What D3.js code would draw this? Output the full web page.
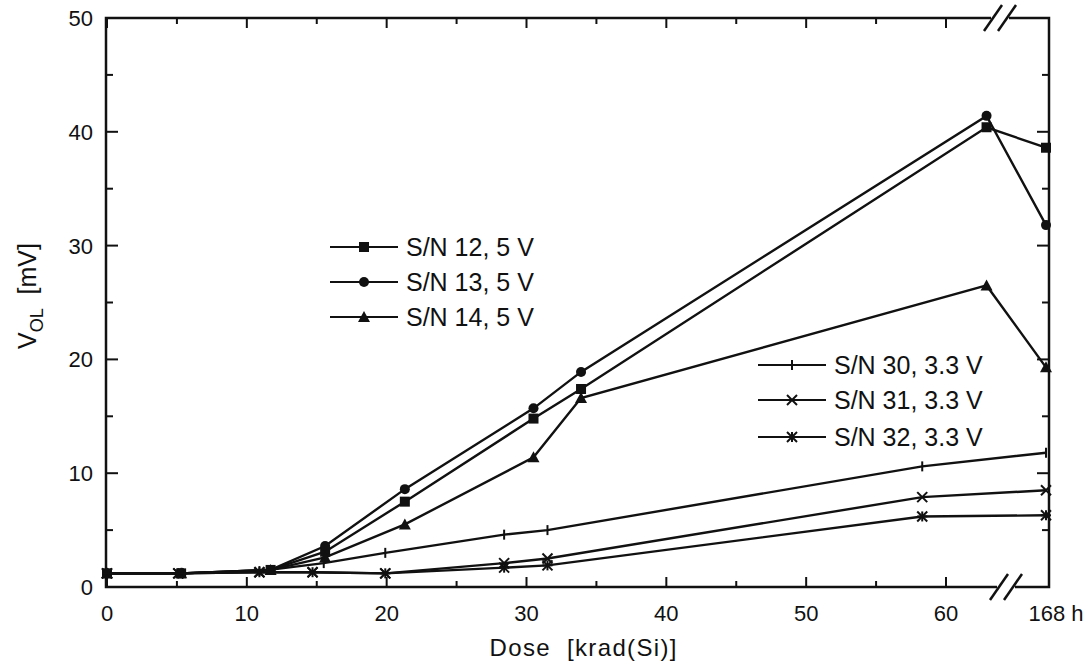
<!DOCTYPE html>
<html>
<head>
<meta charset="utf-8">
<script src="https://cdn.jsdelivr.net/npm/d3@7"></script>
<style>
  body { margin: 0; background: #fff; }
  text { font-family: "Liberation Sans", Arial, sans-serif; fill: #111; }
</style>
</head>
<body>
<div id="chart"></div>
<script>
// dose values in krad(Si); 168 = the 168 h anneal point past the axis break
const dose5V = [0, 5.3, 11.7, 15.6, 21.3, 30.5, 33.9, 62.9, 168];
const dose33V = [0, 5.1, 10.9, 14.7, 19.9, 28.4, 31.5, 58.3, 168];
const dose30 = [0, 5.1, 10.9, 15.5, 19.9, 28.4, 31.5, 58.3, 168];

const sn12 = [1.2, 1.2, 1.5, 3.1, 7.5, 14.8, 17.4, 40.4, 38.6];
const sn13 = [1.2, 1.2, 1.5, 3.6, 8.6, 15.7, 18.9, 41.4, 31.8];
const sn14 = [1.2, 1.2, 1.5, 2.6, 5.5, 11.4, 16.6, 26.5, 19.3];
const sn30 = [1.2, 1.2, 1.4, 2.1, 3.0, 4.6, 5.0, 10.6, 11.8];
const sn31 = [1.2, 1.2, 1.3, 1.3, 1.2, 2.1, 2.5, 7.9, 8.5];
const sn32 = [1.2, 1.2, 1.3, 1.3, 1.2, 1.7, 1.9, 6.2, 6.3];

const xTicks = [0, 10, 20, 30, 40, 50, 60];
const xMinor = [5, 15, 25, 35, 45, 55];
const yTicks = [0, 10, 20, 30, 40, 50];
const yMinor = [5, 15, 25, 35, 45];

const series = [
    { name: 'S/N 12, 5 V', x: dose5V, y: sn12, sym: 'square' },
    { name: 'S/N 13, 5 V', x: dose5V, y: sn13, sym: 'circle' },
    { name: 'S/N 14, 5 V', x: dose5V, y: sn14, sym: 'triangle' },
    { name: 'S/N 30, 3.3 V', x: dose30, y: sn30, sym: 'plus' },
    { name: 'S/N 31, 3.3 V', x: dose33V, y: sn31, sym: 'cross' },
    { name: 'S/N 32, 3.3 V', x: dose33V, y: sn32, sym: 'asterisk' }
];

const width = 1090, height = 666;
const pLeft = 106, pRight = 1049, pTop = 18, pBottom = 587;

const svg = d3.select('#chart')
    .append('svg')
    .attr('width', width)
    .attr('height', height);

// piecewise: linear up to the break, then 168 h sits on the right frame
const k = (946 - 107) / 60;
const x = d3.scaleLinear()
    .domain([0, 66, 168])
    .range([107, 107 + 66 * k, 1046]);
const y = d3.scaleLinear().domain([0, 50]).range([pBottom, pTop]);

// frame
svg.append('rect')
    .attr('x', pLeft).attr('y', pTop)
    .attr('width', pRight - pLeft).attr('height', pBottom - pTop)
    .attr('fill', 'none').attr('stroke', '#111').attr('stroke-width', 2.5);

// inward ticks on all four sides
const tickG = svg.append('g').attr('stroke', '#111').attr('stroke-width', 2);
xTicks.concat(xMinor).forEach(v => {
    const len = xTicks.includes(v) ? 10 : 6;
    tickG.append('line').attr('x1', x(v)).attr('x2', x(v)).attr('y1', pBottom).attr('y2', pBottom - len);
    tickG.append('line').attr('x1', x(v)).attr('x2', x(v)).attr('y1', pTop).attr('y2', pTop + len);
});
yTicks.concat(yMinor).forEach(v => {
    const len = yTicks.includes(v) ? 12 : 7;
    tickG.append('line').attr('x1', pLeft).attr('x2', pLeft + len).attr('y1', y(v)).attr('y2', y(v));
    tickG.append('line').attr('x1', pRight).attr('x2', pRight - len).attr('y1', y(v)).attr('y2', y(v));
});

// tick labels
svg.append('g').selectAll('text')
    .data(xTicks)
    .enter().append('text')
    .attr('x', d => x(d))
    .attr('y', 621)
    .attr('text-anchor', 'middle')
    .attr('font-size', 22)
    .text(d => d);
svg.append('text')
    .attr('x', 1056).attr('y', 621)
    .attr('text-anchor', 'middle')
    .attr('font-size', 22)
    .text('168 h');
svg.append('g').selectAll('text')
    .data(yTicks)
    .enter().append('text')
    .attr('x', 93)
    .attr('y', d => y(d) + 8)
    .attr('text-anchor', 'end')
    .attr('font-size', 22)
    .text(d => d);

// axis titles
svg.append('text')
    .attr('x', 583).attr('y', 656)
    .attr('text-anchor', 'middle')
    .attr('font-size', 24)
    .attr('xml:space', 'preserve')
    .attr('textLength', 187)
    .text('Dose  [krad(Si)]');
const yl = svg.append('text')
    .attr('transform', 'translate(36,296) rotate(-90)')
    .attr('text-anchor', 'middle')
    .attr('font-size', 25)
    .attr('xml:space', 'preserve');
yl.append('tspan').text('V');
yl.append('tspan').attr('font-size', 18).attr('dy', 7).text('OL');
yl.append('tspan').attr('dy', -7).text('  [mV]');

// axis break marks
function breakMark(cx, cy) {
    svg.append('rect').attr('x', cx - 9).attr('y', cy - 3).attr('width', 18).attr('height', 6).attr('fill', '#fff');
    [-7, 7].forEach(o => {
        svg.append('line')
            .attr('x1', cx + o - 9).attr('y1', cy + 13)
            .attr('x2', cx + o + 9).attr('y2', cy - 13)
            .attr('stroke', '#111').attr('stroke-width', 2.5);
    });
}
breakMark(1000, pTop);
breakMark(1006, pBottom);

// markers
function drawSymbol(g, sym, cx, cy) {
    if (sym === 'square') {
        g.append('rect').attr('x', cx - 5).attr('y', cy - 5).attr('width', 10).attr('height', 10).attr('fill', '#111');
    } else if (sym === 'circle') {
        g.append('circle').attr('cx', cx).attr('cy', cy).attr('r', 5).attr('fill', '#111');
    } else if (sym === 'triangle') {
        g.append('path').attr('d', `M${cx},${cy - 6}L${cx + 6},${cy + 5}L${cx - 6},${cy + 5}Z`).attr('fill', '#111');
    } else {
        const p = g.append('g').attr('stroke', '#111').attr('stroke-width', 2);
        const s = 5;
        if (sym === 'plus' || sym === 'asterisk') {
            p.append('line').attr('x1', cx).attr('x2', cx).attr('y1', cy - s).attr('y2', cy + s);
        }
        if (sym === 'cross' || sym === 'asterisk') {
            p.append('line').attr('x1', cx - s).attr('x2', cx + s).attr('y1', cy - s).attr('y2', cy + s);
            p.append('line').attr('x1', cx - s).attr('x2', cx + s).attr('y1', cy + s).attr('y2', cy - s);
        }
        if (sym === 'asterisk') {
            p.append('line').attr('x1', cx - s).attr('x2', cx + s).attr('y1', cy).attr('y2', cy);
        }
    }
}

const line = d3.line().x(d => x(d[0])).y(d => y(d[1]));
series.forEach(s => {
    const pts = s.x.map((d, i) => [d, s.y[i]]);
    svg.append('path')
        .attr('d', line(pts))
        .attr('fill', 'none')
        .attr('stroke', '#111')
        .attr('stroke-width', 2.4);
    const g = svg.append('g');
    pts.forEach(p => drawSymbol(g, s.sym, x(p[0]), y(p[1])));
});

// legends
const legendRows = [
    { s: series[0], lx: 330, ty: 247 },
    { s: series[1], lx: 330, ty: 282 },
    { s: series[2], lx: 330, ty: 317 },
    { s: series[3], lx: 758, ty: 365 },
    { s: series[4], lx: 758, ty: 400 },
    { s: series[5], lx: 758, ty: 437 }
];
legendRows.forEach(r => {
    const g = svg.append('g');
    g.append('line')
        .attr('x1', r.lx).attr('x2', r.lx + 68)
        .attr('y1', r.ty).attr('y2', r.ty)
        .attr('stroke', '#111').attr('stroke-width', 2);
    drawSymbol(g, r.s.sym, r.lx + 34, r.ty);
    g.append('text')
        .attr('x', r.lx + 76).attr('y', r.ty + 9)
        .attr('font-size', 25)
        .text(r.s.name);
});
</script>
</body>
</html>
